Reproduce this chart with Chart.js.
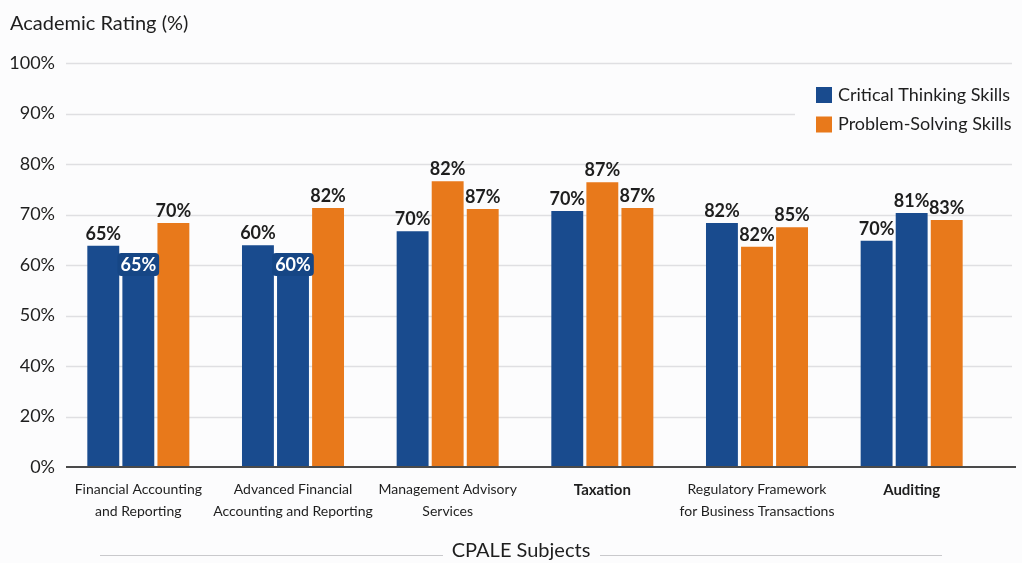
<!DOCTYPE html>
<html>
<head>
<meta charset="utf-8">
<script src="https://cdn.jsdelivr.net/npm/chart.js@4.4.1/dist/chart.umd.min.js"></script>
<style>
  html, body { margin: 0; padding: 0; background: #fcfcfd; }
  #wrap { width: 1022px; height: 563px; position: relative; }
</style>
</head>
<body>
<div id="wrap"><canvas id="c" width="1022" height="563"></canvas></div>
<script>
// ---------- data ----------
const categories = [
  ["Financial Accounting", "and Reporting"],
  ["Advanced Financial", "Accounting and Reporting"],
  ["Management Advisory", "Services"],
  "Taxation",
  ["Regulatory Framework", "for Business Transactions"],
  "Auditing"
];
const yTickLabels = [0, 20, 40, 50, 60, 70, 80, 90, 100];
const seriesNames = ["Critical Thinking Skills", "Problem-Solving Skills"];

// bar heights read against the printed axis, and the printed value labels
const bar1Heights = [63.8, 63.9, 66.7, 70.7, 68.3, 64.8];
const bar1Labels  = [65, 60, 70, 70, 82, 70];
const bar1Series  = [0, 0, 0, 0, 0, 0];

const bar2Heights = [62.4, 62.4, 76.6, 76.4, 63.6, 70.3];
const bar2Labels  = [65, 60, 82, 87, 82, 81];
const bar2Series  = [0, 0, 1, 1, 1, 0];

const bar3Heights = [68.3, 71.3, 71.1, 71.3, 67.5, 68.9];
const bar3Labels  = [70, 82, 87, 87, 85, 83];
const bar3Series  = [1, 1, 1, 1, 1, 1];

// ---------- helpers ----------
const COLORS = ["#194b8e", "#e8791b"];
const FONT = "Lato, 'Open Sans', sans-serif";

function toAxis(p) {
  for (let i = 0; i < yTickLabels.length - 1; i++) {
    const a = yTickLabels[i], b = yTickLabels[i + 1];
    if (p >= a && p <= b) return i + (p - a) / (b - a);
  }
  return yTickLabels.length - 1;
}

const slots = [
  { h: bar1Heights, l: bar1Labels, s: bar1Series },
  { h: bar2Heights, l: bar2Labels, s: bar2Series },
  { h: bar3Heights, l: bar3Labels, s: bar3Series }
];

const datasets = slots.map((sl, k) => ({
  label: "bar " + (k + 1),
  data: sl.h.map(toAxis),
  backgroundColor: sl.s.map(i => COLORS[i]),
  borderWidth: 0,
  categoryPercentage: 0.68,
  barPercentage: 0.91
}));

// labels drawn inside the bar (dark box, white text): [slot, category]
const insideLabels = [[1, 0], [1, 1]];

const decorPlugin = {
  id: "decor",
  beforeDraw(chart) {
    const { ctx } = chart;
    const y = chart.scales.y;
    ctx.save();
    ctx.fillStyle = "#fcfcfd";
    ctx.fillRect(0, 0, chart.width, chart.height);
    ctx.strokeStyle = "#dfdfe2";
    ctx.lineWidth = 1.5;
    for (let i = 1; i < yTickLabels.length; i++) {
      const py = Math.round(y.getPixelForValue(i)) + 0.5;
      ctx.beginPath();
      ctx.moveTo(66, py);
      ctx.lineTo(1012, py);
      ctx.stroke();
    }
    ctx.restore();
  },
  afterDatasetsDraw(chart) {
    const { ctx } = chart;
    const y = chart.scales.y;
    ctx.save();
    const by = y.getPixelForValue(0);
    ctx.strokeStyle = "#4a4a4a";
    ctx.lineWidth = 2;
    ctx.beginPath();
    ctx.moveTo(66, by);
    ctx.lineTo(1016, by);
    ctx.stroke();

    ctx.font = "bold 18px " + FONT;
    ctx.textAlign = "center";
    ctx.textBaseline = "alphabetic";
    slots.forEach((sl, k) => {
      const meta = chart.getDatasetMeta(k);
      meta.data.forEach((bar, j) => {
        const txt = sl.l[j] + "%";
        const inside = insideLabels.some(p => p[0] === k && p[1] === j);
        if (inside) {
          const w = ctx.measureText(txt).width + 6;
          const x0 = bar.x - w / 2, y0 = bar.y;
          ctx.fillStyle = "#164685";
          ctx.beginPath();
          ctx.roundRect(x0, y0, w, 23, 4);
          ctx.fill();
          ctx.fillStyle = "#ffffff";
          ctx.fillText(txt, bar.x, y0 + 18);
        } else {
          ctx.fillStyle = "#1e1e1e";
          ctx.fillText(txt, bar.x, bar.y - 6);
        }
      });
    });

    ctx.textAlign = "left";
    ctx.textBaseline = "middle";
    ctx.fillStyle = "#1e1e1e";
    ctx.font = "20px " + FONT;
    ctx.fillText("Academic Rating (%)", 10, 24);

    ctx.fillStyle = "#fcfcfd";
    ctx.fillRect(795, 76, 222, 64);
    ctx.font = "18px " + FONT;
    seriesNames.forEach((n, i) => {
      const cy = 95 + i * 29.5;
      ctx.fillStyle = COLORS[i];
      ctx.fillRect(816, cy - 8, 16, 16);
      ctx.fillStyle = "#1e1e1e";
      ctx.fillText(n, 838, cy);
    });

    ctx.font = "20px " + FONT;
    ctx.textAlign = "center";
    ctx.fillText("CPALE Subjects", 521, 551);
    ctx.strokeStyle = "#c9c9cc";
    ctx.lineWidth = 1;
    ctx.beginPath();
    ctx.moveTo(100, 555.5); ctx.lineTo(443, 555.5);
    ctx.moveTo(600, 555.5); ctx.lineTo(942, 555.5);
    ctx.stroke();
    ctx.restore();
  }
};

new Chart(document.getElementById("c"), {
  type: "bar",
  data: { labels: categories, datasets },
  options: {
    responsive: false,
    animation: false,
    devicePixelRatio: 1,
    layout: { padding: { top: 63, right: 33, left: 0, bottom: 0 } },
    plugins: { legend: { display: false }, tooltip: { enabled: false }, title: { display: false } },
    scales: {
      x: {
        grid: { display: false, drawTicks: false },
        border: { display: false },
        ticks: {
          color: "#1e1e1e",
          padding: 12,
          autoSkip: false,
          maxRotation: 0,
          font: (c) => {
            const multi = Array.isArray(categories[c.index]);
            return {
              family: FONT,
              size: multi ? 14 : 15,
              lineHeight: multi ? 1.55 : 1.45,
              weight: multi ? "normal" : "bold"
            };
          }
        },
        afterFit(s) { s.height = 96; }
      },
      y: {
        min: 0,
        max: yTickLabels.length - 1,
        grid: { display: false, drawTicks: false },
        border: { display: false },
        ticks: {
          stepSize: 1,
          color: "#1e1e1e",
          padding: 6,
          font: { family: FONT, size: 18 },
          callback: (v) => yTickLabels[v] + "%"
        },
        afterFit(s) { s.width = 61; }
      }
    }
  },
  plugins: [decorPlugin]
});
</script>
</body>
</html>
